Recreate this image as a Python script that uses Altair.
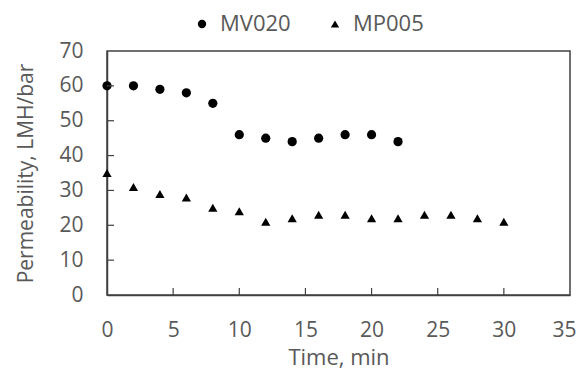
import altair as alt
import pandas as pd

mv_time = [0, 2, 4, 6, 8, 10, 12, 14, 16, 18, 20, 22]
mv_perm = [60, 60, 59, 58, 55, 46, 45, 44, 45, 46, 46, 44]
mp_time = [0, 2, 4, 6, 8, 10, 12, 14, 16, 18, 20, 22, 24, 26, 28, 30]
mp_perm = [35, 31, 29, 28, 25, 24, 21, 22, 23, 23, 22, 22, 23, 23, 22, 21]
series = ["MV020", "MP005"]
x_ticks = [0, 5, 10, 15, 20, 25, 30, 35]
y_ticks = [0, 10, 20, 30, 40, 50, 60, 70]

df = pd.DataFrame(
    [{"t": t, "p": p, "s": series[0]} for t, p in zip(mv_time, mv_perm)]
    + [{"t": t, "p": p, "s": series[1]} for t, p in zip(mp_time, mp_perm)]
)

W, H = 463, 244
FONT = "Open Sans"
GRAY = "#595959"
LINE = "#404040"

xs = alt.Scale(domain=[0, 35], nice=False)
ys = alt.Scale(domain=[0, 70], nice=False)
x_axis = alt.Axis(values=x_ticks, ticks=False, grid=False, labelPadding=24,
                  labelFlush=True, labelFlushOffset=6, labelOverlap=False,
                  titlePadding=7, titleFontSize=22)
y_axis = alt.Axis(values=y_ticks, ticks=False, grid=False, labelPadding=24,
                  labelFlush=False, labelOverlap=False, titlePadding=22,
                  titleFontSize=21)
X_TITLE = "Time, min"
Y_TITLE = "Permeability, LMH/bar"

points = alt.Chart(df).mark_point(filled=True, opacity=1, size=85, color="black").encode(
    x=alt.X("t:Q", scale=xs, title=X_TITLE, axis=x_axis),
    y=alt.Y("p:Q", scale=ys, title=Y_TITLE, axis=y_axis),
    shape=alt.Shape("s:N", sort=series,
                    scale=alt.Scale(domain=series, range=["circle", "triangle-up"]),
                    legend=alt.Legend(title=None, orient="none", direction="horizontal",
                                      legendX=84, legendY=-38, symbolSize=70,
                                      symbolFillColor="black", symbolStrokeColor="black",
                                      labelFontSize=22, labelColor=GRAY, labelFont=FONT,
                                      labelOffset=7, columnPadding=33)),
)

xt = pd.DataFrame({"t": x_ticks[1:-1]})
yt = pd.DataFrame({"p": y_ticks[1:-1]})

xtick_rules = alt.Chart(xt).mark_rule(color=LINE, strokeWidth=1.2).encode(
    x=alt.X("t:Q", scale=xs, title=X_TITLE, axis=x_axis),
    y=alt.value(H), y2=alt.value(H - 7)
)
ytick_rules = alt.Chart(yt).mark_rule(color=LINE, strokeWidth=1.2).encode(
    y=alt.Y("p:Q", scale=ys, title=Y_TITLE, axis=y_axis),
    x=alt.value(0), x2=alt.value(7)
)

chart = alt.layer(points, xtick_rules, ytick_rules).properties(
    width=W, height=H,
    autosize=alt.AutoSizeParams(type="none"),
    padding={"left": 99, "top": 43, "right": 7, "bottom": 77},
).configure_view(
    stroke=LINE, strokeWidth=1.5
).configure_axis(
    domainColor=LINE, domainWidth=1.5,
    labelFont=FONT, labelFontSize=21, labelColor=GRAY,
    titleFont=FONT, titleColor=GRAY, titleFontWeight="normal",
)

chart.save("out.html", embed_options={"renderer": "svg", "actions": False})
